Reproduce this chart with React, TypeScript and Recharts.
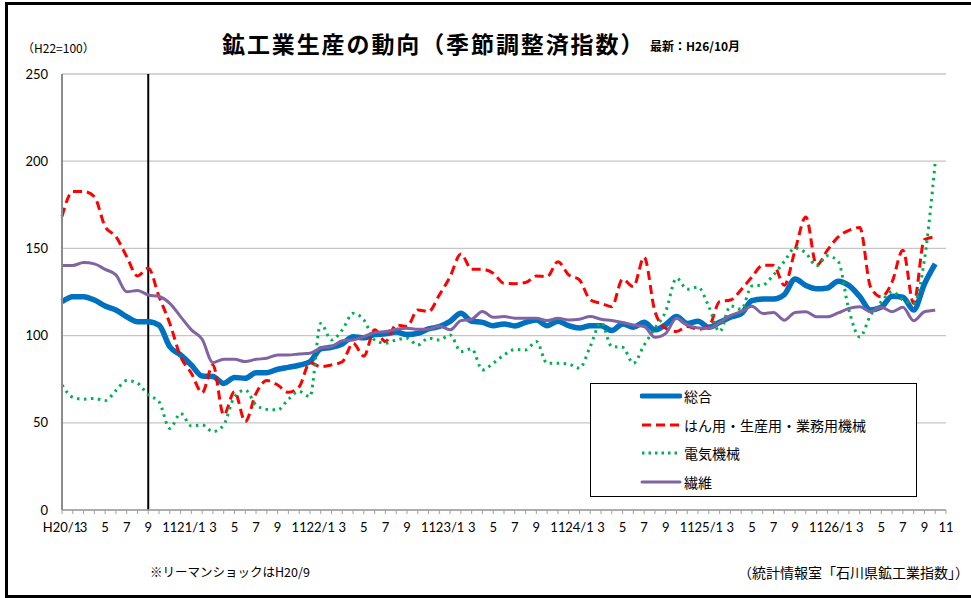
import { LineChart, Line, XAxis, YAxis, CartesianGrid, ReferenceLine } from "recharts";

// H20/1 .. H26/11 (last month has no data yet)
const years = [20, 21, 22, 23, 24, 25, 26];
const months = years.flatMap((y) =>
  Array.from({ length: 12 }, (_, i) => `H${y}/${i + 1}`)
).slice(0, 83);

// labels for every other month
const tickLabels = [
  "H20/1", "3", "5", "7", "9", "11",
  "21/1", "3", "5", "7", "9", "11",
  "22/1", "3", "5", "7", "9", "11",
  "23/1", "3", "5", "7", "9", "11",
  "24/1", "3", "5", "7", "9", "11",
  "25/1", "3", "5", "7", "9", "11",
  "26/1", "3", "5", "7", "9", "11",
];

const yTicks = [0, 50, 100, 150, 200, 250];

const sogo = [
  119.4, 122.3, 122.3, 120.4, 117, 114.7, 110.8, 108, 108, 106,
  93.6, 88.9, 83.1, 76.8, 76.5, 72.6, 76, 75.5, 78.7, 78.7,
  80.7, 81.8, 83, 85, 92.4, 93.3, 95.2, 99.4, 98.7, 100.6,
  101, 102, 100.6, 101.3, 103.8, 105.2, 108.2, 112.8, 108.2, 107.6,
  105.7, 106.7, 105.5, 107.6, 109, 105.7, 108.2, 105.7, 104.4, 105.7,
  105.7, 102.9, 106.7, 104.8, 107.6, 103.3, 106.3, 110.9, 107, 108.2,
  104.8, 107.6, 110.5, 112.6, 120, 121, 121, 123.5, 132.5, 128.7,
  126.8, 127.3, 131.2, 128.7, 122.4, 114.7, 116.3, 122.6, 122, 114.7,
  129.6, 141.1,
];

const hanyo = [
  168.3, 182.6, 182.6, 179.7, 162.5, 156.8, 145.3, 134.2, 138.6, 122.4,
  107, 88, 78.4, 67.3, 83.2, 54.5, 67.9, 50.7, 66.9, 74.2,
  71.7, 67.5, 70.7, 84.5, 82.2, 83.2, 85, 95.6, 88.3, 103.3,
  96.6, 106.1, 105.2, 114.7, 113.8, 123.3, 133.8, 146.8, 138, 138,
  135.8, 130, 129.8, 130.4, 134.2, 133.8, 142.4, 134.8, 131.9, 120.5,
  118.5, 116.6, 132.3, 128.1, 145, 113.8, 104.2, 102.3, 105.2, 103.6,
  105.2, 119.5, 120.4, 126.3, 133.7, 140.3, 140.3, 128.9, 149, 168,
  140.3, 149, 156.6, 160.4, 162, 127.9, 122.2, 130.8, 149, 118.4,
  155, 156.6,
];

const denki = [
  71.7, 64.6, 63.5, 64, 62.7, 68.5, 74.2, 72.7, 66, 62.1,
  46.8, 55.4, 48.2, 48.8, 44.9, 48.8, 65, 68.8, 60.2, 57.7,
  57.4, 63.5, 68, 65, 107, 97.5, 103.3, 112.8, 109, 97.5,
  95.6, 97.5, 98.5, 94.6, 98.5, 97.5, 100.4, 90.8, 92.4, 80.3,
  84.1, 88.9, 92, 91.8, 96.6, 84.1, 84.1, 83.7, 81.3, 93.7,
  107.5, 93.7, 93.3, 84.1, 94.6, 104.2, 113.8, 132.9, 126.6, 127.8,
  116.6, 102.3, 117, 115, 128.5, 129, 134.8, 142.5, 150.2, 147.3,
  140, 145.8, 142.5, 114.6, 99.2, 111.7, 119.4, 125.2, 120.4, 118.5,
  143.5, 199.6,
];

const seni = [
  140.2, 140.2, 141.9, 141.1, 138, 134.8, 125.2, 125.8, 123.3, 122.4,
  118.5, 110.9, 103.3, 97.9, 84.5, 86.4, 86.4, 85.1, 86.4, 87,
  88.9, 88.9, 89.5, 89.9, 92.9, 93.7, 97.1, 97.5, 99.4, 101.7,
  102.3, 103.6, 104.2, 103.6, 103.6, 105.5, 103.3, 108.6, 109.4, 113.8,
  110.5, 110.9, 110, 109.9, 109.9, 108.6, 109.9, 109, 109.4, 110.9,
  109.4, 108.6, 107.5, 106.1, 105.2, 99, 101.3, 109.9, 106.1, 104.4,
  104.2, 107.5, 111.5, 113.7, 116.9, 112.7, 113.3, 108.8, 113.3, 113.7,
  110.8, 110.8, 113, 115.6, 116.5, 113.7, 116.2, 113.7, 116.2, 108.5,
  113.7, 114.6,
];

const data = months.map((m, i) => ({
  month: m,
  sogo: sogo[i],
  hanyo: hanyo[i],
  denki: denki[i],
  seni: seni[i],
}));

const JP = "'Noto Sans CJK JP', sans-serif";
const NUM = "Lato, 'Noto Sans CJK JP', sans-serif";

const MonthTick = (props: any) => {
  const { x, y, index } = props;
  if (index % 2 !== 0) return null;
  return (
    <text x={x} y={y + 16} textAnchor="middle" fontSize={13} fontFamily={NUM} fill="#000">
      {tickLabels[index / 2]}
    </text>
  );
};

const legendItems = [
  { label: "総合", color: "#0070C0", width: 5, dash: undefined as string | undefined, cap: "round" },
  { label: "はん用・生産用・業務用機械", color: "#FF0000", width: 3, dash: "9 5", cap: "butt" },
  { label: "電気機械", color: "#00B050", width: 3, dash: "2.5 4", cap: "butt" },
  { label: "繊維", color: "#8064A2", width: 3, dash: undefined, cap: "round" },
];

export default function App() {
  return (
    <div style={{ position: "absolute", left: 0, top: 0, width: 971, height: 598, background: "#fff", overflow: "hidden", fontFamily: JP }}>
      <div style={{ position: "absolute", left: 5, top: 2, width: 990, height: 596, border: "3px solid #000", boxSizing: "border-box" }} />

      <div style={{ position: "absolute", left: 22, top: 41, fontSize: 12, lineHeight: "14px", color: "#000" }}>（H22=100）</div>
      <div style={{ position: "absolute", left: 222, top: 30, fontSize: 23, lineHeight: "26px", fontWeight: 700, letterSpacing: 1.9, color: "#000", whiteSpace: "nowrap" }}>
        鉱工業生産の動向（季節調整済指数）
      </div>
      <div style={{ position: "absolute", left: 650, top: 39, fontSize: 12, lineHeight: "14px", fontWeight: 700, color: "#000" }}>最新：H26/10月</div>

      <LineChart
        width={971}
        height={598}
        data={data}
        margin={{ top: 74, right: 25, bottom: 58, left: 0 }}
        style={{ position: "absolute", left: 0, top: 0 }}
      >
        <CartesianGrid vertical={false} stroke="#c6c6c6" strokeWidth={1.3} />
        <XAxis
          dataKey="month"
          interval={0}
          height={30}
          tickSize={4}
          tickMargin={2}
          axisLine={{ stroke: "#a0a0a0", strokeWidth: 1.3 }}
          tickLine={{ stroke: "#a0a0a0" }}
          tick={<MonthTick />}
        />
        <YAxis
          width={62}
          domain={[0, 250]}
          ticks={yTicks}
          tickSize={0}
          tickMargin={14}
          axisLine={{ stroke: "#8c8c8c", strokeWidth: 2 }}
          tickLine={false}
          tick={{ fontSize: 13, fill: "#000", fontFamily: NUM }}
        />
        <ReferenceLine x="H20/9" stroke="#000" strokeWidth={2} />
        <Line dataKey="sogo" stroke="#0070C0" strokeWidth={5.5} type="monotone" dot={false} activeDot={false} isAnimationActive={false} strokeLinejoin="round" />
        <Line dataKey="hanyo" stroke="#FF0000" strokeWidth={3} strokeDasharray="9 5" type="monotone" dot={false} activeDot={false} isAnimationActive={false} />
        <Line dataKey="denki" stroke="#00B050" strokeWidth={3} strokeDasharray="2.5 4.5" type="monotone" dot={false} activeDot={false} isAnimationActive={false} />
        <Line dataKey="seni" stroke="#8064A2" strokeWidth={3} type="monotone" dot={false} activeDot={false} isAnimationActive={false} />
      </LineChart>

      <div style={{ position: "absolute", left: 590, top: 383, width: 327, height: 114, border: "1.5px solid #000", boxSizing: "border-box", background: "#fff" }}>
        {legendItems.map((it, i) => (
          <div key={it.label} style={{ position: "absolute", left: 49, top: 2 + i * 28.5, height: 20, display: "flex", alignItems: "center" }}>
            <svg width={42} height={10}>
              <line x1={2} y1={5} x2={40} y2={5} stroke={it.color} strokeWidth={it.width} strokeDasharray={it.dash} strokeLinecap={it.cap as any} />
            </svg>
            <span style={{ marginLeft: 2, fontSize: 14, lineHeight: "16px", color: "#000" }}>{it.label}</span>
          </div>
        ))}
      </div>

      <div style={{ position: "absolute", left: 150, top: 564, fontSize: 12.5, lineHeight: "16px", color: "#000" }}>※リーマンショックはH20/9</div>
      <div style={{ position: "absolute", left: 738, top: 564, fontSize: 14, lineHeight: "16px", color: "#000", whiteSpace: "nowrap" }}>（統計情報室「石川県鉱工業指数」）</div>
    </div>
  );
}
